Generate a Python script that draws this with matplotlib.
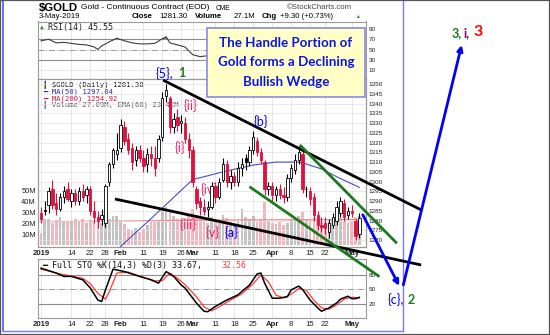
import numpy as np
import pandas as pd
import matplotlib
matplotlib.use("Agg")
import matplotlib.pyplot as plt
from matplotlib.lines import Line2D
from matplotlib.patches import Rectangle

# === Data ===
dates = pd.bdate_range("2019-01-02", "2019-05-03")
dates = dates.drop(pd.to_datetime(["2019-01-21", "2019-02-18", "2019-04-19"]))

opens = [1284, 1285, 1288, 1296, 1289, 1286, 1292, 1296, 1290, 1294,
         1290, 1295, 1293, 1296, 1285, 1282, 1281, 1279, 1300, 1309,
         1314, 1317, 1328, 1322, 1317, 1311, 1316, 1312, 1309, 1314,
         1312, 1312, 1323, 1344, 1343, 1328, 1333, 1330, 1330, 1322,
         1316, 1296, 1290, 1287, 1286, 1287, 1298, 1292, 1301, 1309,
         1300, 1303, 1300, 1307, 1312, 1310, 1316, 1321, 1315, 1310,
         1296, 1298, 1293, 1296, 1293, 1292, 1302, 1306, 1311, 1314,
         1296, 1295, 1292, 1283, 1278, 1279, 1274, 1278, 1280, 1284,
         1289, 1283, 1285, 1280, 1273]
highs = [1287, 1290, 1297, 1301, 1294, 1294, 1298, 1300, 1296, 1296,
         1297, 1299, 1298, 1298, 1290, 1285, 1286, 1299, 1310, 1317,
         1325, 1332, 1331, 1325, 1320, 1318, 1319, 1316, 1317, 1318,
         1318, 1324, 1346, 1350, 1344, 1335, 1337, 1334, 1333, 1325,
         1318, 1298, 1292, 1291, 1290, 1300, 1300, 1302, 1312, 1311,
         1306, 1305, 1310, 1312, 1314, 1318, 1326, 1323, 1317, 1311,
         1300, 1300, 1298, 1299, 1297, 1304, 1309, 1314, 1318, 1316,
         1298, 1297, 1294, 1285, 1282, 1282, 1281, 1284, 1290, 1292,
         1291, 1287, 1288, 1281, 1284]
lows = [1279, 1283, 1284, 1286, 1283, 1285, 1289, 1290, 1287, 1288,
        1288, 1290, 1289, 1283, 1279, 1276, 1278, 1277, 1298, 1307,
        1311, 1315, 1319, 1314, 1306, 1308, 1310, 1305, 1305, 1308,
        1303, 1310, 1321, 1341, 1325, 1325, 1326, 1325, 1320, 1312,
        1297, 1286, 1283, 1283, 1282, 1286, 1289, 1291, 1300, 1297,
        1296, 1298, 1298, 1303, 1306, 1308, 1314, 1313, 1309, 1293,
        1293, 1290, 1290, 1291, 1289, 1290, 1300, 1304, 1309, 1294,
        1292, 1288, 1280, 1275, 1274, 1273, 1271, 1276, 1278, 1282,
        1280, 1281, 1282, 1270, 1271]
closes = [1281, 1285, 1295, 1288, 1286, 1292, 1295, 1291, 1294, 1290,
          1295, 1292, 1296, 1285, 1282, 1280, 1283, 1298, 1309, 1316,
          1316, 1329, 1321, 1316, 1310, 1316, 1312, 1308, 1314, 1312,
          1307, 1322, 1343, 1347, 1328, 1332, 1329, 1331, 1322, 1316,
          1300, 1289, 1287, 1285, 1287, 1298, 1292, 1300, 1309, 1300,
          1303, 1300, 1307, 1309, 1310, 1316, 1323, 1315, 1311, 1296,
          1298, 1293, 1296, 1293, 1292, 1302, 1307, 1311, 1315, 1296,
          1296, 1291, 1283, 1278, 1277, 1276, 1279, 1282, 1287, 1290,
          1282, 1285, 1284, 1272, 1281.3]
volume = [11, 24, 24, 20, 23, 26, 22, 21, 22, 24,
          22, 24, 20, 23, 22, 23, 20, 25, 24, 27,
          27, 22, 19, 15, 14, 16, 12, 15, 18, 21,
          21, 22, 33, 35, 30, 27, 24, 22, 25, 28,
          33, 28, 24, 22, 20, 26, 22, 20, 28, 25,
          21, 19, 22, 33, 26, 24, 27, 22, 24, 40,
          22, 20, 19, 21, 18, 20, 23, 25, 27, 30,
          24, 23, 26, 24, 21, 19, 22, 24, 23, 25,
          21, 20, 22, 26, 27.09]

vol_ema_x = [0, 20, 40, 60, 84]
vol_ema = [21.5, 22.0, 22.8, 23.2, 23.42]

ma50_x = [18, 20, 29, 40, 48, 56, 62, 68, 70, 74, 78, 84]
ma50 = [1260, 1265, 1281, 1301, 1305, 1308.5, 1310, 1310, 1309, 1306.5, 1302.5, 1297.04]

rsi_x = [0, 2, 4, 6, 8, 10, 12, 14, 15, 16, 18, 20, 22, 24, 26, 28, 30, 32, 33, 34,
         36, 38, 40, 42, 44, 48, 52, 56, 60, 64, 68, 72, 76, 80, 84]
rsi = [67, 70, 63, 64, 62, 60, 59, 55, 50, 57, 65, 72, 67, 63, 61, 61, 62, 71, 75, 63,
       59, 55, 40, 36, 38, 52, 55, 63, 45, 47, 58, 40, 38, 47, 45.55]

sto_k_x = [0, 4, 6, 8, 11, 13, 15, 16, 17, 19, 22, 26, 29, 31, 33, 35, 37, 38, 41, 43,
           44, 46, 49, 52, 53, 55, 57, 58, 59, 61, 63, 65, 66, 68, 69, 71, 73, 74, 76, 78,
           79, 81, 82, 83, 84]
sto_k = [94, 84, 77, 77, 70, 53, 28, 25, 49, 92, 87, 77, 70, 63, 87, 77, 59, 53, 22, 5,
         4, 15, 28, 39, 46, 59, 82, 84, 63, 32, 32, 35, 49, 57, 50, 28, 12, 5, 12, 22,
         30, 36, 31, 31, 33.67]
sto_d_x = [0, 5, 8, 11, 13, 15, 17, 18, 20, 23, 27, 30, 32, 34, 36, 38, 41, 43, 45, 47,
           50, 53, 56, 58, 60, 62, 64, 66, 68, 70, 72, 74, 76, 78, 80, 82, 84]
sto_d = [92, 82, 78, 73, 62, 42, 30, 45, 84, 86, 75, 68, 68, 84, 73, 60, 35, 14, 6, 14,
         28, 41, 62, 80, 66, 38, 33, 40, 52, 48, 28, 12, 9, 18, 30, 34, 32.56]

tick_dates = ["2019-01-02", "2019-01-14", "2019-01-22", "2019-01-28", "2019-02-01",
              "2019-02-11", "2019-02-19", "2019-02-26", "2019-03-01", "2019-03-11",
              "2019-03-18", "2019-03-25", "2019-04-01", "2019-04-08", "2019-04-15",
              "2019-04-22", "2019-05-01"]
tick_labels = ["2019", "14", "22", "28", "Feb", "11", "19", "26", "Mar", "11", "18",
               "25", "Apr", "8", "15", "22", "May"]

# annotation lines (day index, price)
upper_wedge = ([32.2, 100.3], [1352.0, 1285.5])
lower_wedge = ([19.5, 100.3], [1291.1, 1257.3])
upper_green = ([68.3, 93.9], [1318.8, 1268.4])
lower_green = ([55.0, 89.3], [1297.4, 1251.3])
arrow_down = ([84.9, 94.5], [1283.0, 1246.6])
arrow_up = ([95.6, 111.0], [1247.1, 1370.0])

# === Derived ===
x = np.arange(len(dates))
o = np.array(opens, dtype=float)
h = np.array(highs, dtype=float)
l = np.array(lows, dtype=float)
c = np.array(closes, dtype=float)
prev = np.r_[o[0], c[:-1]]
up = c >= prev
edge = np.where(up, "black", "#e0103c")
face = np.where(c > o, "white", edge)
vol_col = np.where(up, "#b8b8b8", "#f2a9b3")
tick_pos = [dates.get_loc(pd.Timestamp(d)) for d in tick_dates]

# === Figure ===
W, H = 550.0, 335.0
fig = plt.figure(figsize=(5.5, 3.35), dpi=100)
plt.rcParams["font.family"] = ["Liberation Sans", "DejaVu Sans"]


def box(x0, y0, x1, y1):
    return [x0 / W, 1 - y1 / H, (x1 - x0) / W, (y1 - y0) / H]


ax_rsi = fig.add_axes(box(38, 21.5, 366, 79))
axv = fig.add_axes(box(38, 79, 366, 247))
ax = fig.add_axes(box(38, 79, 366, 247))
ax_sto = fig.add_axes(box(38, 259, 366, 318))
axv.set_zorder(1)
ax.set_zorder(5)
ax.patch.set_visible(False)

XL = (-0.8, 85.75)
grid_c = "#e2e2e2"
for a in (ax_rsi, axv, ax, ax_sto):
    a.set_xlim(*XL)
    for s in a.spines.values():
        s.set_color("#9a9a9a")
        s.set_linewidth(0.8)
    a.tick_params(length=0, labelsize=4.6, pad=2, colors="#222222")
for a in (ax_rsi, axv, ax_sto):
    for t in tick_pos:
        a.axvline(t, color=grid_c, lw=0.6, zorder=0)

mono = "DejaVu Sans Mono"

# --- RSI panel ---
ax_rsi.set_ylim(-7.6, 104.7)
ax_rsi.set_xticks([])
ax_rsi.yaxis.tick_right()
ax_rsi.set_yticks([10, 30, 50, 70, 90])
for lv in (10, 90):
    ax_rsi.axhline(lv, color=grid_c, lw=0.6, zorder=0)
ax_rsi.axhline(70, color="#8c8c8c", lw=0.8)
ax_rsi.axhline(30, color="#8c8c8c", lw=0.8)
ax_rsi.axhline(50, color="#9a9a9a", lw=0.7, ls="-.")
rx = np.array(rsi_x, dtype=float)
rv = np.array(rsi, dtype=float)
ax_rsi.fill_between(rx, rv, 70, where=rv > 70, interpolate=True, color="#5e9a5e", lw=0)
ax_rsi.plot(rx, rv, color="#3c3c3c", lw=0.8)
ax_rsi.text(0.03, 0.9, "RSI(14) 45.55", transform=ax_rsi.transAxes, fontsize=6,
            family=mono, va="center", color="#222222")
ax_rsi.text(0.006, 0.9, "\u25b2", transform=ax_rsi.transAxes, fontsize=4.5,
            family=mono, va="center", color="#3c7a3c")

# --- volume (behind price) ---
axv.bar(x, volume, width=0.72, color=vol_col, alpha=0.85, zorder=1)
axv.plot(vol_ema_x, vol_ema, color="#f08a8a", lw=0.9, zorder=2)
axv.set_ylim(-1.8, 152.7)
axv.set_yticks([10, 20, 30, 40, 50], ["10M", "20M", "30M", "40M", "50M"])
axv.tick_params(labelsize=5.4, pad=1.5)
axv.set_xticks([])

# --- price panel ---
ax.set_ylim(1266.5, 1352.56)
ax.yaxis.tick_right()
ax.set_yticks(np.arange(1270, 1351, 5))
for lv in np.arange(1270, 1351, 5):
    ax.axhline(lv, color=grid_c, lw=0.5, zorder=0)
ax.plot(ma50_x, ma50, color="#4b4bc8", lw=0.8, zorder=2)
ax.vlines(x, l, h, colors=edge, lw=0.8, zorder=3)
ax.bar(x, np.maximum(np.abs(c - o), 0.4), bottom=np.minimum(o, c), width=0.62,
       color=face, edgecolor=edge, linewidth=0.6, zorder=4)
ax.set_xticks(tick_pos, tick_labels)
ax.tick_params(axis="x", labelsize=5.6, pad=2)
for t in ax.get_xticklabels():
    if not t.get_text().isdigit() or t.get_text() == "2019":
        t.set_fontweight("bold")

# legend inside price panel
leg_font = dict(family=mono, fontsize=5.2, zorder=3, va="center")
fig.text(43 / W, 1 - 85 / H, "\u2503 $GOLD (Daily) 1281.30", color="#111111", **leg_font)
fig.text(43 / W, 1 - 91.7 / H, "\u2501 MA(50) 1297.04", color="#2a2ab0", **leg_font)
fig.text(43 / W, 1 - 98.3 / H, "\u2501 MA(200) 1254.92", color="#e0103c", **leg_font)
fig.text(43 / W, 1 - 105 / H, "\u2503 Volume 27.09M, EMA(60) 23.42M", color="#555555", **leg_font)

# --- stochastics panel ---
ax_sto.set_ylim(-9, 113)
ax_sto.yaxis.tick_right()
ax_sto.set_yticks([20, 50, 80])
ax_sto.axhline(80, color="#8c8c8c", lw=0.8)
ax_sto.axhline(20, color="#8c8c8c", lw=0.8)
ax_sto.axhline(50, color="#9a9a9a", lw=0.7, ls="-.")
ax_sto.plot(sto_d_x, sto_d, color="#ff3b3b", lw=0.9)
ax_sto.plot(sto_k_x, sto_k, color="black", lw=1.1)
ax_sto.set_xticks(tick_pos, tick_labels)
ax_sto.tick_params(axis="x", labelsize=5.6, pad=2)
for t in ax_sto.get_xticklabels():
    if not t.get_text().isdigit() or t.get_text() == "2019":
        t.set_fontweight("bold")
ax_sto.text(0.012, 0.89, "\u2501 Full STO %K(14,3) %D(3) 33.67,", transform=ax_sto.transAxes,
            fontsize=6, family=mono, va="center", color="#111111")
ax_sto.text(0.56, 0.89, "32.56", transform=ax_sto.transAxes,
            fontsize=6, family=mono, va="center", color="#ff3b3b")

# === Wedge lines and wave labels ===
ln = dict(clip_on=False, zorder=6, solid_capstyle="butt")
ax.plot(*upper_wedge, color="black", lw=2, **ln)
ax.plot(*lower_wedge, color="black", lw=2, **ln)
ax.plot(*upper_green, color="#1c7a1c", lw=2, **ln)
ax.plot(*lower_green, color="#1c7a1c", lw=2, **ln)
for seg in (arrow_down, arrow_up):
    ax.annotate("", xy=(seg[0][1], seg[1][1]), xytext=(seg[0][0], seg[1][0]),
                arrowprops=dict(arrowstyle="-|>", color="#0000ff", lw=2,
                                mutation_scale=8, shrinkA=0, shrinkB=0),
                annotation_clip=False, zorder=7)

lab = dict(family=["Lato", "DejaVu Sans"], fontsize=9, va="center", clip_on=False, zorder=7)
pink = "#f2266e"
ax.text(30.1, 1355.6, "{5},", color="#0000ff", ha="left", **lab)
ax.text(36.1, 1355.6, "1", color="#1c7a1c", ha="left", fontweight="bold", **lab)
ax.text(39.4, 1339.2, "{ii}", color=pink, ha="center", **lab)
ax.text(36.7, 1317.2, "{i}", color=pink, ha="center", **lab)
ax.text(42.0, 1295.7, "{iv}", color=pink, ha="left", **dict(lab, zorder=3.5))
ax.text(38.7, 1277.8, "{iii}", color=pink, ha="center", **lab)
ax.text(45.3, 1273.9, "{v}", color=pink, ha="center", **lab)
ax.text(50.3, 1273.9, "{a}", color="#0000ff", ha="center", **lab)
ax.text(57.9, 1330.7, "{b}", color="#0000ff", ha="center", **lab)
ax.text(91.3, 1239.4, "{c},", color="#0000ff", ha="left", **lab)
ax.text(96.8, 1239.4, "2", color="#1c7a1c", ha="left", fontweight="bold", **lab)
ax.text(108.4, 1376.1, "3,", color="#1c7a1c", ha="left", fontweight="bold", **lab)
ax.text(111.6, 1376.1, "i,", color="#800080", ha="left", fontweight="bold", **lab)
ax.text(114.0, 1376.6, "3", color="#ff0000", ha="left", fontweight="bold",
        **dict(lab, fontsize=11.5))

# === Header ===
fig.text(39 / W, 1 - 7.5 / H, "$GOLD", fontsize=8.2, fontweight="bold", va="center")
fig.text(81 / W, 1 - 7.5 / H, "Gold - Continuous Contract (EOD)", fontsize=6, va="center")
fig.text(216 / W, 1 - 8 / H, "CME", fontsize=4.8, va="center")
fig.text(287 / W, 1 - 7.5 / H, "\u00a9StockCharts.com", fontsize=5.6, va="center", color="#444444")
fig.text(39 / W, 1 - 16 / H, "3-May-2019", fontsize=5.6, va="center")
fig.text(132 / W, 1 - 16 / H, "Close", fontsize=5.6, fontweight="bold", va="center")
fig.text(159 / W, 1 - 16 / H, "1281.30", fontsize=5.6, va="center")
fig.text(195 / W, 1 - 16 / H, "Volume", fontsize=5.6, fontweight="bold", va="center")
fig.text(234 / W, 1 - 16 / H, "27.1M", fontsize=5.6, va="center")
fig.text(262 / W, 1 - 16 / H, "Chg", fontsize=5.6, fontweight="bold", va="center")
fig.text(280 / W, 1 - 16 / H, "+9.30 (+0.73%)", fontsize=5.6, va="center")
fig.text(355 / W, 1 - 16 / H, "\u25b2", fontsize=3.5, va="center", color="#2a8a2a")

# === Text box ===
fig.add_artist(Rectangle((207 / W, 1 - 97 / H), 158 / W, 69 / H, transform=fig.transFigure,
                         facecolor="#ffffc6", edgecolor="#8a8ae0", lw=1.2, zorder=8))
for yy, s in zip([43, 62.5, 82], ["The Handle Portion of", "Gold forms a Declining", "Bullish Wedge"]):
    fig.text(286 / W, 1 - yy / H, s, ha="center", va="center", fontsize=9.6,
             fontweight="bold", color="#0a14e6", family=["Lato", "DejaVu Sans"], zorder=9)

# === Frames ===
fig.add_artist(Line2D([3 / W, 3 / W], [1 - 331 / H, 1], color="#5555ff", lw=1.2, transform=fig.transFigure))
fig.add_artist(Line2D([403 / W, 403 / W], [1 - 331 / H, 1], color="#7777ff", lw=1.0, transform=fig.transFigure))
fig.add_artist(Line2D([3 / W, 403 / W], [1 - 331 / H, 1 - 331 / H], color="#7777ff", lw=1.0, transform=fig.transFigure))
fig.add_artist(Rectangle((0, 0), 1, 1, transform=fig.transFigure, fill=False,
                         edgecolor="#555555", lw=1.6, zorder=10))

fig.savefig("out.png", dpi=100)
